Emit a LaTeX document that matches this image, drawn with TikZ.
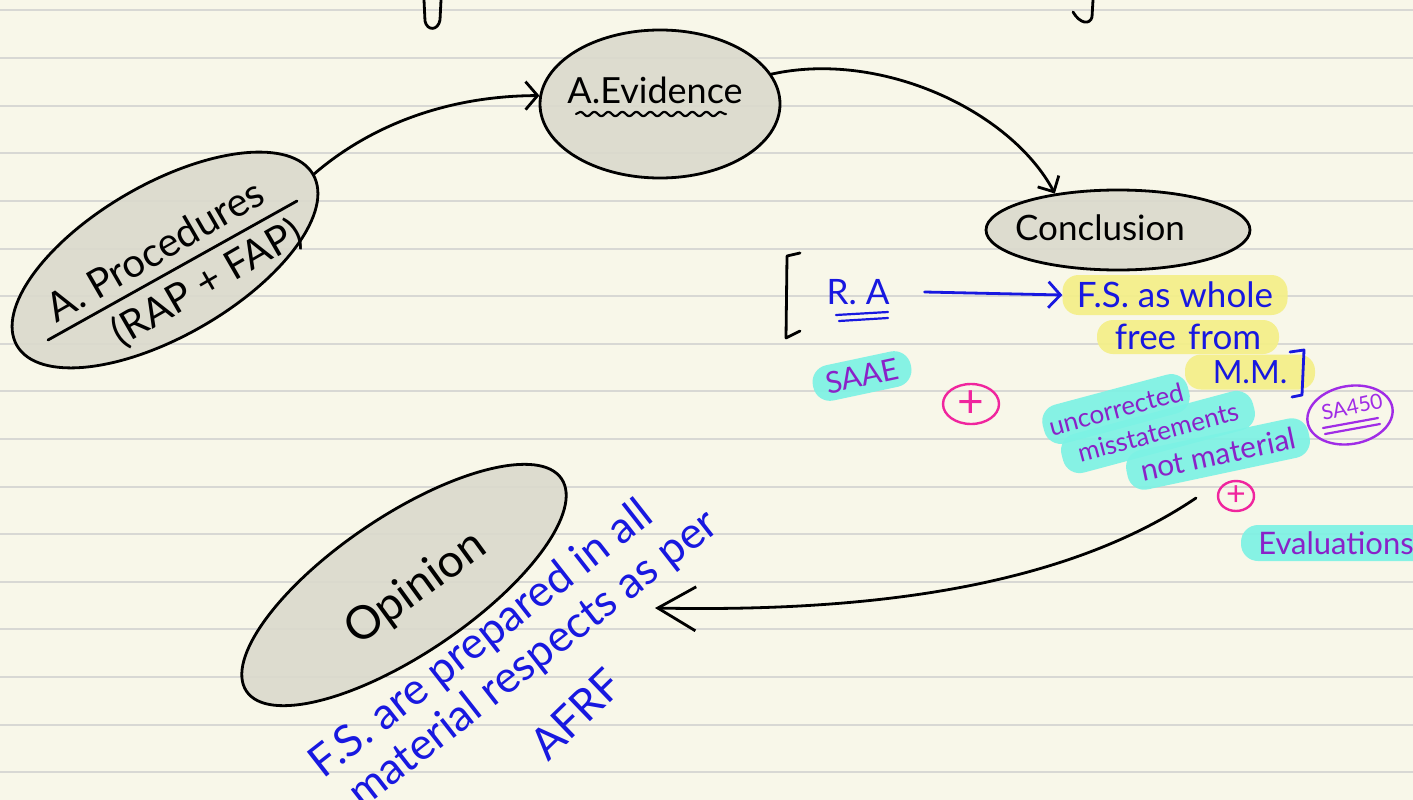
\documentclass[tikz,border=0pt]{standalone}
\usepackage{fontspec}
\setmainfont{Lato}
\usetikzlibrary{shapes.geometric,arrows.meta,decorations.pathmorphing,calc}

\definecolor{paper}{HTML}{F8F7E9}
\definecolor{ruling}{HTML}{D8D8D4}
\definecolor{bubblefill}{HTML}{DBDACD}
\definecolor{inkblue}{HTML}{1818E0}
\definecolor{inkpurple}{HTML}{8A22C8}
\definecolor{penviolet}{HTML}{A02CE6}
\definecolor{hlcyan}{HTML}{7DF2E4}
\definecolor{hlyellow}{HTML}{F4EF88}
\definecolor{inkpink}{HTML}{F0259E}

\tikzset{
  ruleline/.style={draw=ruling, line width=2pt},
  bubble/.style={ellipse, draw=black, line width=2.8pt, fill=bubblefill,
    fill opacity=0.9, draw opacity=1, inner sep=0pt},
  ink/.style={line width=2.8pt, line cap=round, line join=round},
  fs/.style={font=\fontsize{#1}{#1}\selectfont},
  conn/.style={ink, draw=black},
  bluetext/.style={text=inkblue, inner sep=1pt},
  hlc/.style={fill=hlcyan, fill opacity=0.92, text opacity=1, rounded corners=17pt,
    text=inkpurple, inner sep=2pt},
  hly/.style={fill=hlyellow, fill opacity=0.92, text opacity=1, rounded corners=16pt,
    text=inkblue, inner sep=2pt},
  pluscircle/.style={ellipse, draw=inkpink, line width=2.4pt, text=inkpink, inner sep=0pt},
}

\begin{document}
\begin{tikzpicture}[x=1pt,y=-1pt]
\useasboundingbox[fill=paper] (0,0) rectangle (1413,800);

% ruled notebook lines
\foreach \k in {0,...,16}{
  \pgfmathsetmacro\yy{10.5+47.6*\k}
  \draw[ruleline] (0,\yy) -- (1413,\yy);
}

% letter tails hanging down from the line above
\draw[ink] (424,0) -- (425,21) .. controls (427,31) and (438,31) .. (440,20) -- (441,0);
\draw[ink] (1093,0) -- (1092,17) .. controls (1090,25) and (1080,24) .. (1073,12);

% ---- bubbles ----
\node[bubble, minimum width=342pt, minimum height=152pt, rotate=30] (proc) at (165,260) {};
\node[bubble, minimum width=240pt, minimum height=148pt] (evid) at (660,104) {};
\node[bubble, minimum width=264pt, minimum height=80pt] (concl) at (1118,230) {};
\node[bubble, minimum width=380pt, minimum height=138pt, rotate=34] (opin) at (404,585) {};

% bubble texts
\node[fs=40, rotate=30, inner sep=0pt] (procTop) at (155,250) {A. Procedures};
\node[fs=40, rotate=30, inner sep=0pt] (procBot) at (207,283) {(RAP + FAP)};
\draw[ink] (48,340) -- (297,201);

\node[fs=36, inner sep=0pt] (evidTxt) at (655,90) {A.Evidence};
\draw[ink, line width=2.2pt, decorate, decoration={snake, amplitude=2.2pt, segment length=14pt}]
  (576,114) -- (726,114);

\node[fs=35, inner sep=0pt] (conclTxt) at (1100,228) {Conclusion};
\node[fs=46, rotate=36, inner sep=0pt] (opinTxt) at (416,589) {Opinion};

% ---- connectors between the stages ----
\draw[conn, -{Straight Barb[length=12pt, width=28pt]}]
  (proc.east) .. controls (365,130) and (440,96) .. (evid.176);
\draw[conn, -{Straight Barb[length=12pt, width=24pt]}]
  (evid.15) .. controls (880,50) and (1010,110) .. (concl.150);

% ---- reasonable assurance note ----
\draw[ink] (800,253) -- (787,256) -- (786,338) -- (800,331);
\node[bluetext, fs=35] (ra) at (858,292) {R. A};
\draw[ink, draw=inkblue, line width=2.2pt] (836,315) -- (888,312);
\draw[ink, draw=inkblue, line width=2.2pt] (839,321) -- (888,318);

\node[hly, fs=35, minimum width=225pt, minimum height=40pt] (fsw) at (1175,295) {F.S. as whole};
\node[hly, fs=35, minimum width=182pt, minimum height=34pt] (free) at (1188,337) {free\hspace{12pt}from};
\node[hly, fs=32, minimum width=130pt, minimum height=35pt] (mm) at (1250,372) {M.M.\hspace{44pt}};
\draw[ink, draw=inkblue] (1290,352) -- (1304,350) -- (1302,395) -- (1292,397);

\draw[ink, draw=inkblue, -{Straight Barb[length=12pt, width=26pt]}]
  ([xshift=34pt]ra.east) -- (fsw.west);

\node[hlc, fs=30, rotate=12, minimum width=100pt, minimum height=36pt] (saae) at (862,376) {SAAE};
\node[pluscircle, fs=46, minimum width=56pt, minimum height=40pt] (plusA) at (971,404) {+};

\node[hlc, fs=26, rotate=15, minimum width=150pt, minimum height=40pt] (uncor) at (1116,409) {uncorrected};
\node[hlc, fs=26, rotate=15, minimum width=198pt, minimum height=40pt] (miss) at (1158,432) {misstatements};
\node[hlc, fs=30, rotate=12, minimum width=186pt, minimum height=40pt] (notmat) at (1218,454) {not material};

\node[ellipse, draw=penviolet, line width=2.4pt, rotate=10, minimum width=86pt, minimum height=58pt] (sa) at (1350,415) {};
\node[fs=21, text=penviolet, rotate=12, inner sep=0pt] (saTxt) at (1352,407) {SA450};
\draw[ink, draw=penviolet, line width=2.2pt] (1323,428) -- (1378,418);
\draw[ink, draw=penviolet, line width=2.2pt] (1325,434) -- (1380,424);

\node[pluscircle, fs=34, minimum width=36pt, minimum height=30pt] (plusB) at (1236,496) {+};
\node[hlc, fs=31, minimum width=190pt, minimum height=36pt] (evals) at (1336,543) {Evaluations};

% ---- evaluation leads to the opinion ----
\coordinate (evstart) at (1196,498);
\coordinate (optip) at (655,608);
\draw[conn, -{Straight Barb[length=38pt, width=44pt]}]
  (evstart) .. controls (1060,590) and (860,612) .. (optip);

\node[bluetext, fs=44, rotate=38, inner sep=0pt] (noteA) at (482,640) {F.S. are prepared in all};
\node[bluetext, fs=44, rotate=38, inner sep=0pt] (noteB) at (534,660) {material respects as per};
\node[bluetext, fs=44, rotate=44, inner sep=0pt] (noteC) at (576,714) {AFRF};

\end{tikzpicture}
\end{document}
